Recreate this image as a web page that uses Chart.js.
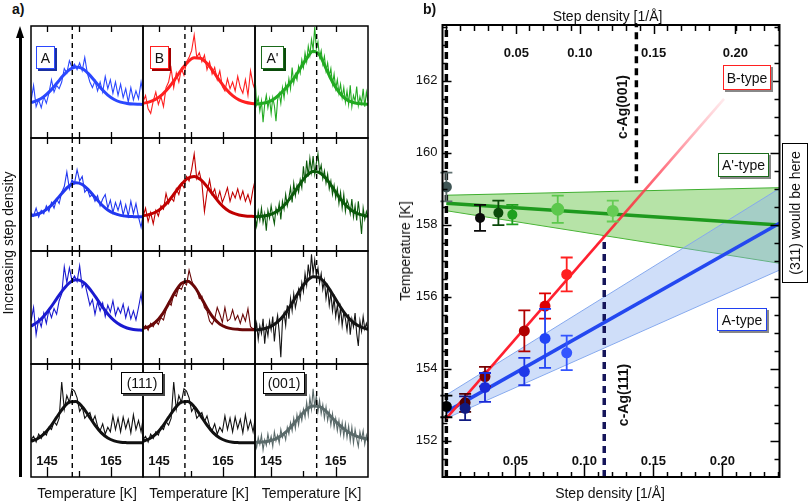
<!DOCTYPE html>
<html><head><meta charset="utf-8">
<script src="https://cdn.jsdelivr.net/npm/chart.js@4.4.1/dist/chart.umd.min.js"></script>
<style>
html,body{margin:0;padding:0;background:#fff;}
body{width:810px;height:502px;position:relative;overflow:hidden;font-family:"Liberation Sans",Arial,sans-serif;color:#111;}
canvas{position:absolute;}
.t{position:absolute;white-space:nowrap;line-height:1;z-index:5;}
.box{position:absolute;box-sizing:border-box;background:#fff;border:1.5px solid #000;box-shadow:2px 2px 0 #444;display:flex;align-items:center;justify-content:center;font-size:14px;line-height:1;z-index:6;white-space:nowrap;}
.rot{transform:translate(-50%,-50%) rotate(-90deg);}
.ctr{transform:translate(-50%,-50%);}
.box span.r{transform:rotate(-90deg);flex-shrink:0;display:inline-block;}
</style></head><body>
<div class="t" style="left:12px;top:2px;font-weight:bold;font-size:14px">a)</div>
<div class="t" style="left:423px;top:2px;font-weight:bold;font-size:14px">b)</div>
<div style="position:absolute;left:19px;top:36px;width:3px;height:441px;background:#000;z-index:5"></div>
<div style="position:absolute;left:16px;top:26px;width:0;height:0;border-left:4.5px solid transparent;border-right:4.5px solid transparent;border-bottom:12px solid #000;z-index:5"></div>
<div class="t rot" style="left:8px;top:243px;font-size:14px">Increasing step density</div>
<div class="t ctr" style="left:87px;top:493px;font-size:14px">Temperature [K]</div>
<div class="t ctr" style="left:199px;top:493px;font-size:14px">Temperature [K]</div>
<div class="t ctr" style="left:311.5px;top:493px;font-size:14px">Temperature [K]</div>

<div class="box" style="left:36px;top:46px;width:19px;height:23px;border-color:#2b48ff;box-shadow:2px 2px 0 #1a30a0">A</div>
<div class="box" style="left:150px;top:46px;width:19px;height:23px;border-color:#ff2020;box-shadow:2px 2px 0 #a00000">B</div>
<div class="box" style="left:261px;top:46px;width:23px;height:23px;border-color:#1a6a1a;box-shadow:2px 2px 0 #0a4a0a">A'</div>
<div class="box" style="left:121px;top:372px;width:42px;height:22px;">(111)</div>
<div class="box" style="left:263px;top:372px;width:42px;height:22px;">(001)</div>

<div class="t ctr" style="left:607.5px;top:15.5px;font-size:14px">Step density [1/Å]</div>
<div class="t ctr" style="left:610px;top:493px;font-size:14px">Step density [1/Å]</div>
<div class="t rot" style="left:405px;top:251px;font-size:14px">Temperature [K]</div>
<div class="t rot" style="left:621.5px;top:106.5px;font-size:14px;font-weight:bold">c-Ag(001)</div>
<div class="t rot" style="left:623px;top:395px;font-size:14px;font-weight:bold">c-Ag(111)</div>
<div class="box" style="left:723px;top:65px;width:48px;height:25px;border-color:#ff2020;box-shadow:2px 2px 0 #888">B-type</div>
<div class="box" style="left:718px;top:153px;width:51px;height:24px;border-color:#1a6a1a;box-shadow:2px 2px 0 #888">A'-type</div>
<div class="box" style="left:717px;top:308px;width:50px;height:23px;border-color:#2040f0;box-shadow:2px 2px 0 #888">A-type</div>
<div class="box" style="left:782px;top:143px;width:26px;height:140px;box-shadow:none"><span class="r">(311) would be here</span></div>

<script>
const FONT = '"Liberation Sans", Arial, sans-serif';

// ---------------- panel a) : spectra ----------------
const tCoarse = [140.0,140.8,141.6,142.4,143.2,144.0,144.8,145.6,146.4,147.2,148.0,148.8,149.6,150.4,151.2,152.0,152.8,153.6,154.4,155.2,156.0,156.8,157.6,158.4,159.2,160.0,160.8,161.6,162.4,163.2,164.0,164.8,165.6,166.4,167.2,168.0,168.8,169.6,170.4,171.2,172.0,172.8,173.6,174.4,175.0];
const tFine = [140.0,140.5,141.0,141.5,142.0,142.5,143.0,143.5,144.0,144.5,145.0,145.5,146.0,146.5,147.0,147.5,148.0,148.5,149.0,149.5,150.0,150.5,151.0,151.5,152.0,152.5,153.0,153.5,154.0,154.5,155.0,155.5,156.0,156.5,157.0,157.5,158.0,158.5,159.0,159.5,160.0,160.5,161.0,161.5,162.0,162.5,163.0,163.5,164.0,164.5,165.0,165.5,166.0,166.5,167.0,167.5,168.0,168.5,169.0,169.5,170.0,170.5,171.0,171.5,172.0,172.5,173.0,173.5,174.0,174.5,175.0];
const tFit = [140,142,144,146,148,150,152,154,156,158,160,162,164,166,168,170,172,174,175];
const panelTicks = [145,155,165];
const panelTickLabels = [145,165];
const peakTemps = [152.9,153.1,159.1];

// row 1
const traceR1A = [33,47,28,34,27,37,31,40,52,41,47,44,50,62,58,69,63,66,61,67,60,72,58,50,45,51,42,50,41,55,44,52,40,50,38,48,36,44,32,45,34,42,35,50,40];
const fitR1A = [31.6,33.5,36.9,42.1,48.6,55.5,61.0,63.5,62.1,57.3,50.7,43.9,38.3,34.4,32.0,30.9,30.3,30.1,30.0];
const traceR1B = [32,38,26,22,33,41,30,37,28,45,50,62,45,58,50,62,56,68,72,78,92,72,76,68,74,61,68,57,63,52,60,46,42,53,44,50,42,55,45,40,52,38,60,48,43];
const fitR1B = [31.0,32.2,34.7,38.8,44.8,52.6,60.8,67.8,71.6,71.2,66.6,59.2,50.9,43.5,37.8,34.0,31.9,30.8,30.5];
const traceR1Ap = [55,30,36,24,33,14,30,38,27,35,22,36,29,15,34,40,31,45,36,48,41,53,44,63,49,57,52,64,58,70,63,76,68,82,74,88,79,99,80,86,72,78,66,73,60,67,55,62,48,57,44,52,40,48,36,45,32,42,30,47,28,38,33,46,29,37,31,44,28,41,33];
const fitR1Ap = [30.2,30.8,32.0,35.0,40.0,46.0,53.0,62.0,71.0,77.5,74.0,62.0,50.0,41.0,35.0,32.0,30.8,30.3,30.2];
// row 2
const traceR2A = [34,31,38,30,36,33,40,35,43,38,46,42,52,57,70,55,63,60,72,62,66,52,55,48,50,44,49,40,46,50,38,45,34,43,36,44,32,41,31,44,33,42,30,21,32];
const fitR2A = [31.2,32.5,35.2,39.5,45.5,52.1,57.7,60.3,58.9,54.0,47.5,41.2,36.3,33.2,31.5,30.7,30.4,30.3,30.3];
const traceR2B = [30,38,26,34,24,36,31,40,37,51,42,47,44,55,50,60,56,66,62,72,86,64,70,60,35,52,63,50,55,45,53,43,49,56,44,52,47,55,46,53,44,50,42,55,62];
const fitR2B = [31.2,32.3,34.5,38.4,44.3,51.6,59.0,64.4,66.0,63.1,57.0,49.4,42.3,37.0,33.7,31.9,31.0,30.7,30.6];
const traceR2Ap = [30,22,35,27,38,25,33,18,36,29,40,31,24,38,33,42,28,44,37,50,40,47,56,43,60,49,58,52,63,56,75,60,80,66,82,70,84,68,78,86,70,76,64,71,60,68,55,62,50,58,47,55,42,52,38,50,35,45,41,33,46,30,40,27,44,31,15,38,28,35,30];
const fitR2Ap = [30.2,30.7,31.7,33.8,37.6,43.5,51.2,59.6,66.6,70.3,69.3,64.1,56.3,47.9,40.9,35.9,32.8,31.2,30.7];
// row 3
const traceR3A = [38,50,26,40,33,45,36,48,41,49,44,56,62,86,72,85,74,78,73,87,68,72,62,52,57,44,55,47,54,42,52,46,56,43,50,45,53,41,50,40,47,39,50,62,48];
const fitR3A = [33.5,37.0,42.3,49.4,57.6,65.6,71.8,74.5,73.0,67.8,60.1,51.8,44.3,38.4,34.4,31.9,30.6,30.0,29.8];
const traceR3B = [31,34,30,36,33,38,35,41,39,48,55,52,62,60,68,66,72,70,83,74,68,66,58,60,50,47,38,35,40,50,44,37,50,38,40,48,39,43,36,44,38,49,33,31,32];
const fitR3B = [31.5,33.3,37.2,43.9,53.4,63.6,71.3,73.3,68.7,59.6,49.4,40.9,35.3,32.4,31.1,30.6,30.4,30.4,30.4];
const traceR3Ap = [28,36,22,34,27,40,18,33,25,38,30,42,20,35,43,28,6,38,45,34,52,40,58,47,62,50,57,66,58,72,64,80,70,88,76,97,80,92,78,85,72,80,66,74,58,68,52,63,47,58,42,52,38,50,34,46,40,30,44,26,40,33,45,27,16,38,29,42,31,36,30];
const fitR3Ap = [30.0,30.7,32.2,35.2,40.1,47.3,56.2,65.6,73.3,77.3,76.3,70.6,61.9,52.5,44.1,37.9,33.8,31.5,30.8];
// row 4
const trace111 = [33,36,31,38,34,40,37,44,42,49,46,52,84,60,72,66,78,76,70,58,62,52,55,57,49,54,45,41,47,38,44,40,54,42,52,40,53,43,51,39,55,42,50,40,51];
const fit111 = [31.7,33.8,37.9,44.4,52.7,60.8,66.2,66.8,62.2,54.4,45.9,39.0,34.5,32.0,30.8,30.4,30.2,30.2,30.2];
const trace001 = [32,26,35,29,37,24,33,28,38,30,36,27,40,32,37,30,42,35,39,33,44,38,48,41,52,43,55,46,57,50,60,53,66,55,70,60,78,62,72,58,68,56,64,52,62,50,58,46,56,44,52,41,50,38,48,36,47,35,45,32,44,30,42,34,27,40,33,41,29,37,31];
const fit001 = [30.7,31.0,31.7,33.3,36.3,40.9,47.1,54.0,59.8,62.8,62.3,58.2,52.0,46.3,41.5,38.0,35.5,34.0,33.5];

const panels = [
  {row:0,col:0,x:tCoarse,y:traceR1A,fit:fitR1A,color:'#2b48ff'},
  {row:0,col:1,x:tCoarse,y:traceR1B,fit:fitR1B,color:'#ff2020'},
  {row:0,col:2,x:tFine,y:traceR1Ap,fit:fitR1Ap,color:'#22aa22'},
  {row:1,col:0,x:tCoarse,y:traceR2A,fit:fitR2A,color:'#2238f0'},
  {row:1,col:1,x:tCoarse,y:traceR2B,fit:fitR2B,color:'#c00000'},
  {row:1,col:2,x:tFine,y:traceR2Ap,fit:fitR2Ap,color:'#0a5a0a'},
  {row:2,col:0,x:tCoarse,y:traceR3A,fit:fitR3A,color:'#1a1ad0'},
  {row:2,col:1,x:tCoarse,y:traceR3B,fit:fitR3B,color:'#6a0808'},
  {row:2,col:2,x:tFine,y:traceR3Ap,fit:fitR3Ap,color:'#141414'},
  {row:3,col:0,x:tCoarse,y:trace111,fit:fit111,color:'#111111'},
  {row:3,col:1,x:tCoarse,y:trace111,fit:fit111,color:'#111111'},
  {row:3,col:2,x:tFine,y:trace001,fit:fit001,color:'#5a6a6a'}
];
const colLeft=[31,143,255], colW=[112,112,113], rowTop=[26,138,251,364], rowH=[112,113,113,113];
const PAD=6;

const panelDeco = {
  id:'panelDeco',
  afterDraw(chart, args, opts){
    const {ctx, chartArea:a, scales:{x}} = chart;
    ctx.save();
    ctx.strokeStyle='#000';
    ctx.lineWidth=1.5;
    ctx.strokeRect(a.left, a.top, a.right-a.left, a.bottom-a.top);
    ctx.lineWidth=1.3;
    panelTicks.forEach(t=>{
      const px=Math.round(x.getPixelForValue(t))+0.5;
      const lb = (opts.bottom && panelTickLabels.includes(t)) ? 10 : 6;
      ctx.beginPath();
      ctx.moveTo(px,a.top); ctx.lineTo(px,a.top+6);
      ctx.moveTo(px,a.bottom); ctx.lineTo(px,a.bottom-lb);
      ctx.stroke();
    });
    if(opts.bottom){
      ctx.fillStyle='#111';
      ctx.font='bold 13px '+FONT;
      ctx.textAlign='center'; ctx.textBaseline='middle';
      panelTickLabels.forEach(t=>{
        ctx.fillText(String(t), x.getPixelForValue(t), a.bottom-16);
      });
    }
    ctx.restore();
  }
};

panels.forEach(p=>{
  const cv=document.createElement('canvas');
  const w=colW[p.col], h=rowH[p.row];
  cv.width=w+2*PAD; cv.height=h+2*PAD;
  cv.style.left=(colLeft[p.col]-PAD)+'px';
  cv.style.top=(rowTop[p.row]-PAD)+'px';
  cv.style.width=(w+2*PAD)+'px'; cv.style.height=(h+2*PAD)+'px';
  document.body.appendChild(cv);
  const peak=peakTemps[p.col];
  new Chart(cv,{
    type:'line',
    data:{datasets:[
      {data:p.x.map((t,i)=>({x:t,y:p.y[i]})),borderColor:p.color,borderWidth:1.1,pointRadius:0,tension:0,order:2},
      {data:tFit.map((t,i)=>({x:t,y:p.fit[i]})),borderColor:p.color,borderWidth:3,pointRadius:0,cubicInterpolationMode:'monotone',order:1},
      {data:[{x:peak,y:0},{x:peak,y:100}],borderColor:'#000',borderWidth:1.4,borderDash:[5,4],pointRadius:0,order:0}
    ]},
    options:{responsive:false,animation:false,devicePixelRatio:1,events:[],
      layout:{padding:PAD},
      plugins:{legend:{display:false},tooltip:{enabled:false},panelDeco:{bottom:p.row===3}},
      scales:{x:{type:'linear',min:140,max:175,display:false},y:{type:'linear',min:0,max:100,display:false}}},
    plugins:[panelDeco]
  });
});

// ---------------- panel b) : temperature vs step density ----------------
const sdRange=[-0.0028,0.2414];
const tRange=[150.99,163.55];
const fitX=[0,0.2414];
const greenFitT=[158.60,157.99], greenUpperT=[158.82,159.03], greenLowerT=[158.39,156.93];
const blueFitT=[152.80,158.04], blueUpperT=[153.27,159.01], blueLowerT=[152.62,156.74];
const redFitX=[0,0.2012], redFitT=[152.62,161.50];
const cAg001X=0.1377, cAg001T=[159.15,163.55];
const cAg111X=0.1144, cAg111T=[150.99,157.67];

const aTypeX=[0.0136,0.0280,0.0565,0.0715,0.0872];
const aTypeT=[152.90,153.48,153.92,154.84,154.44];
const aTypeErr=[0.33,0.40,0.38,0.82,0.48];
const aTypeColors=['#101a80','#1a2ad8','#1f38e8','#2244f5','#3355ff'];
const bTypeX=[0.0136,0.0280,0.0565,0.0715,0.0872];
const bTypeT=[153.05,153.78,155.05,155.74,156.62];
const bTypeErr=[0.25,0.27,0.57,0.35,0.47];
const bTypeColors=['#500000','#7a0000','#b00000','#dd0000','#ff2020'];
const apTypeX=[0.0244,0.0377,0.0478,0.0807,0.1206];
const apTypeT=[158.19,158.33,158.28,158.43,158.38];
const apTypeErr=[0.36,0.34,0.27,0.38,0.29];
const apTypeColors=['#0a0a0a','#0a4a0a','#1fa01f','#5cc84c','#66cc55'];
const refX=[0,0];
const refT=[159.05,152.95];
const refErr=[0.40,0.30];
const refColors=['#3f5555','#000000'];

const yMajorTicks=[152,154,156,158,160,162];
const yMinorTicks=[151.5,152.5,153,153.5,154.5,155,155.5,156.5,157,157.5,158.5,159,159.5,160.5,161,161.5,162.5,163,163.5];
const xMajorTicks=[0.05,0.10,0.15,0.20];
const xTickLabels=['0.05','0.10','0.15','0.20'];
const xMinorTicks=[0,0.01,0.02,0.03,0.04,0.06,0.07,0.08,0.09,0.11,0.12,0.13,0.14,0.16,0.17,0.18,0.19,0.21,0.22,0.23,0.24];
const topLabelAt=[0.0507,0.0967,0.1502,0.2094];
const topTickLabels=['0.05','0.10','0.15','0.20'];

function pts(xs,ts){return xs.map((x,i)=>({x:x,y:ts[i]}));}

function redGradient(chart){
  const {ctx,chartArea,scales}=chart;
  if(!chartArea||!scales.x) return '#ff2030';
  const x1=scales.x.getPixelForValue(redFitX[0]), y1=scales.y.getPixelForValue(redFitT[0]);
  const x2=scales.x.getPixelForValue(redFitX[1]), y2=scales.y.getPixelForValue(redFitT[1]);
  const g=ctx.createLinearGradient(x1,y1,x2,y2);
  g.addColorStop(0,'rgba(255,32,48,1)');
  g.addColorStop(0.55,'rgba(255,32,48,1)');
  g.addColorStop(0.78,'rgba(255,60,80,0.7)');
  g.addColorStop(1,'rgba(255,90,110,0.12)');
  return g;
}

const errorBars={
  id:'errorBars',
  beforeDatasetDraw(chart,args){
    const ds=chart.data.datasets[args.index];
    if(!ds.errs) return;
    const {ctx,scales:{x,y}}=chart;
    ctx.save();
    ctx.lineWidth=1.8;
    ds.data.forEach((p,i)=>{
      const px=x.getPixelForValue(p.x), t=y.getPixelForValue(p.y+ds.errs[i]), b=y.getPixelForValue(p.y-ds.errs[i]);
      ctx.strokeStyle=ds.errColors[i];
      ctx.beginPath();
      ctx.moveTo(px,t);ctx.lineTo(px,b);
      ctx.moveTo(px-6,t);ctx.lineTo(px+6,t);
      ctx.moveTo(px-6,b);ctx.lineTo(px+6,b);
      ctx.stroke();
    });
    ctx.restore();
  }
};

const frameTicks={
  id:'frameTicks',
  afterDraw(chart){
    const {ctx,chartArea:a,scales:{x,y}}=chart;
    ctx.save();
    ctx.strokeStyle='#000';
    ctx.lineWidth=1.5;
    const line=(x1,y1,x2,y2)=>{ctx.beginPath();ctx.moveTo(x1,y1);ctx.lineTo(x2,y2);ctx.stroke();};
    yMajorTicks.forEach(v=>{const py=Math.round(y.getPixelForValue(v))+0.5; line(a.left,py,a.left+9,py); line(a.right,py,a.right-9,py);});
    yMinorTicks.forEach(v=>{const py=Math.round(y.getPixelForValue(v))+0.5; line(a.left,py,a.left+5,py); line(a.right,py,a.right-5,py);});
    xMinorTicks.forEach(v=>{const px=Math.round(x.getPixelForValue(v))+0.5; line(px,a.bottom,px,a.bottom-5); line(px,a.top,px,a.top+6);});
    xMajorTicks.forEach(v=>{const px=Math.round(x.getPixelForValue(v))+0.5; line(px,a.bottom,px,a.bottom-12);});
    topLabelAt.forEach(v=>{const px=Math.round(x.getPixelForValue(v))+0.5; line(px,a.top,px,a.top+9);});
    ctx.lineWidth=2;
    ctx.strokeRect(a.left,a.top,a.right-a.left,a.bottom-a.top);
    ctx.fillStyle='#111';
    ctx.font='bold 13px '+FONT;
    ctx.textAlign='center';ctx.textBaseline='middle';
    xMajorTicks.forEach((v,i)=>ctx.fillText(xTickLabels[i],x.getPixelForValue(v),a.bottom-16));
    topLabelAt.forEach((v,i)=>ctx.fillText(topTickLabels[i],x.getPixelForValue(v),a.top+28));
    ctx.restore();
  }
};

const cvB=document.createElement('canvas');
cvB.width=410;cvB.height=502;
cvB.style.left='400px';cvB.style.top='0px';cvB.style.width='410px';cvB.style.height='502px';
document.body.appendChild(cvB);

const lineBase={type:'line',pointRadius:0,fill:false,tension:0};
new Chart(cvB,{
  type:'scatter',
  data:{datasets:[
    Object.assign({},lineBase,{data:pts(fitX,greenUpperT),borderColor:'#3fae2f',borderWidth:1,fill:'+1',backgroundColor:'rgba(110,200,80,0.5)',order:20}),
    Object.assign({},lineBase,{data:pts(fitX,greenLowerT),borderColor:'#3fae2f',borderWidth:1,order:20}),
    Object.assign({},lineBase,{data:pts(fitX,blueUpperT),borderColor:'#86a9ee',borderWidth:1,fill:'+1',backgroundColor:'rgba(140,176,240,0.42)',order:19}),
    Object.assign({},lineBase,{data:pts(fitX,blueLowerT),borderColor:'#86a9ee',borderWidth:1,order:19}),
    Object.assign({},lineBase,{data:pts([0,0],tRange),borderColor:'#000',borderWidth:3.5,borderDash:[7,4],order:15}),
    Object.assign({},lineBase,{data:pts([cAg001X,cAg001X],cAg001T),borderColor:'#000',borderWidth:3.5,borderDash:[7,5],order:15}),
    Object.assign({},lineBase,{data:pts([cAg111X,cAg111X],cAg111T),borderColor:'#15155a',borderWidth:3.5,borderDash:[7,5],order:15}),
    Object.assign({},lineBase,{data:pts(fitX,greenFitT),borderColor:'#1e9a1e',borderWidth:3.5,order:10}),
    Object.assign({},lineBase,{data:pts(fitX,blueFitT),borderColor:'#2448f0',borderWidth:3.5,order:9}),
    Object.assign({},lineBase,{data:pts(redFitX,redFitT),borderColor:c=>redGradient(c.chart),borderWidth:2.6,order:8}),
    {data:pts(apTypeX,apTypeT),errs:apTypeErr,errColors:apTypeColors,pointBackgroundColor:apTypeColors,pointBorderWidth:0,pointRadius:[5,5,5,6.5,6],order:4},
    {data:pts(bTypeX,bTypeT),errs:bTypeErr,errColors:bTypeColors,pointBackgroundColor:bTypeColors,pointBorderWidth:0,pointRadius:5.5,order:3},
    {data:pts(aTypeX,aTypeT),errs:aTypeErr,errColors:aTypeColors,pointBackgroundColor:aTypeColors,pointBorderWidth:0,pointRadius:5.5,order:2},
    {data:pts(refX,refT),errs:refErr,errColors:['#607070','#000'],pointBackgroundColor:refColors,pointBorderWidth:0,pointRadius:5.5,order:1}
  ]},
  options:{responsive:false,animation:false,devicePixelRatio:1,events:[],
    layout:{padding:{left:0,right:30.5,top:25,bottom:25}},
    plugins:{legend:{display:false},tooltip:{enabled:false}},
    scales:{
      x:{type:'linear',min:sdRange[0],max:sdRange[1],display:false},
      y:{type:'linear',position:'left',min:tRange[0],max:tRange[1],
         afterFit(s){s.width=42.5;},
         afterBuildTicks(s){s.ticks=yMajorTicks.map(v=>({value:v}));},
         grid:{display:false,drawTicks:false},border:{display:false},
         ticks:{padding:5,color:'#111',font:{family:FONT,size:13},callback:v=>String(v)}}
    }},
  plugins:[errorBars,frameTicks]
});
</script>
</body></html>
